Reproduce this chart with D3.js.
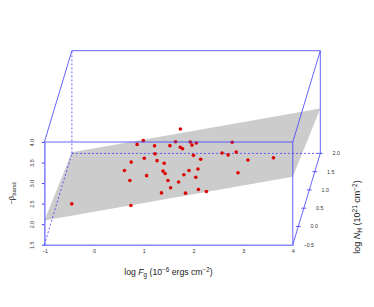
<!DOCTYPE html>
<html>
<head>
<meta charset="utf-8">
<script src="https://cdn.jsdelivr.net/npm/d3@7"></script>
<style>
  html, body { margin: 0; padding: 0; background: #fff; }
  text { font-family: "Liberation Sans", Arial, sans-serif; }
</style>
</head>
<body>
<svg class="plot" width="374" height="307"></svg>
<script>
// tick labels
var fluxTicks = [-1, 0, 1, 2, 3, 4],
    betaTicks = [1.5, 2.0, 2.5, 3.0, 3.5, 4.0],
    nhTicks = [-0.5, 0.0, 0.5, 1.0, 1.5, 2.0];

// points: log flux, log NH, -beta
var logFlux = [0.59, 0.88, 0.83, 1.25, 1.53, 1.35, 1.46, 1.67, 0.95, 0.90, 0.47, 0.88, 1.30, 0.50, 1.11, 1.32, 0.78, 0.61, 1.21, 1.59, 1.53, 1.80, 1.43, 1.08, 1.73, 1.66, 1.86, 1.67, 1.89, 1.87, 2.67, 2.30, 2.31, 2.75, 2.82, 3.50, 2.62, 1.98, 1.77, 1.99, 2.15, -0.56, 0.63];
var logNH = [0.75, 0, 1.25, 0.75, 0, 1.25, 0.75, 0, 0.75, 0, 0.75, 1.25, 0, 0, 0.75, 0, 0.75, 0, 0.75, 0, 0.75, 0, 0, 0.75, 0, 0.75, 0, 1.25, 0, 0.75, 0, 0.75, 1.25, 0, 0.75, 0, 0.75, 0, 0.75, 0, 0, 0, 0];
var beta = [2.83, 3.59, 2.35, 2.80, 3.56, 2.76, 2.76, 3.39, 2.60, 3.16, 2.40, 1.99, 3.04, 2.86, 2.18, 2.79, 2.07, 2.62, 1.95, 2.58, 2.09, 2.86, 2.44, 1.65, 2.31, 2.89, 3.48, 2.42, 3.23, 2.47, 3.55, 2.62, 2.13, 3.31, 2.45, 3.17, 2.14, 2.90, 2.03, 2.40, 2.35, 2.05, 2.01];

// regression plane at the four box corners
var planeFlux = [-1, 4, 4, -1],
    planeNH = [-0.5, -0.5, 2, 2],
    planeBeta = [2.09, 3.155, 2.59, 1.53];

var boxBlue = "#3c3cff";

var svg = d3.select(".plot");

// scatterplot3d style projection: depth shifts the front face up and to the right
var x = d3.scaleLinear().domain([-1, 4]).range([44.4, 292.8]),
    y = d3.scaleLinear().domain([1.5, 4]).range([244.7, 142]),
    depthX = d3.scaleLinear().domain([-0.5, 2]).range([0, 27.5]),
    depthY = d3.scaleLinear().domain([-0.5, 2]).range([0, -91.3]);

function px(f, n) { return x(f) + depthX(n); }
function py(f, n, b) { return y(b) + depthY(n); }

// box edge between two data corners
function edge(a, b, dashed) {
  svg.append("line")
      .attr("x1", px(a[0], a[1])).attr("y1", py(a[0], a[1], a[2]))
      .attr("x2", px(b[0], b[1])).attr("y2", py(b[0], b[1], b[2]))
      .attr("stroke", boxBlue)
      .attr("stroke-width", 0.8)
      .attr("stroke-dasharray", dashed ? "2,2" : null);
}

// plane first, box and points over it
svg.append("polygon")
    .attr("fill", "#cccccc")
    .attr("points", planeFlux.map(function(d, i) {
      return px(d, planeNH[i]) + "," + py(d, planeNH[i], planeBeta[i]);
    }).join(" "));

// hidden edges are dashed
edge([-1, 2, 1.5], [4, 2, 1.5], true);
edge([-1, 2, 1.5], [-1, 2, 4], true);
edge([-1, -0.5, 1.5], [-1, 2, 1.5], true);

svg.selectAll(".dots")
    .data(logFlux)
    .enter()
    .append("circle")
    .attr("class", "dots")
    .attr("cx", function(d, i) { return px(d, logNH[i]); })
    .attr("cy", function(d, i) { return py(d, logNH[i], beta[i]); })
    .attr("r", 1.8)
    .attr("fill", "#dd0000");

edge([-1, -0.5, 4], [4, -0.5, 4]);
edge([-1, 2, 4], [4, 2, 4]);
edge([-1, -0.5, 4], [-1, 2, 4]);
edge([4, -0.5, 1.5], [4, -0.5, 4]);
edge([4, 2, 1.5], [4, 2, 4]);
edge([4, -0.5, 4], [4, 2, 4]);
edge([4, -0.5, 1.5], [4, 2, 1.5]);

// bottom axis
var xAxis = svg.append("g")
    .attr("transform", "translate(0," + y(1.5) + ")")
    .call(d3.axisBottom(x).tickValues(fluxTicks).tickSize(1).tickSizeOuter(0).tickPadding(4)
      .tickFormat(function(d) { return d < 0 ? "\u2212" + (-d) : d; }));

// left axis, labels turned like base R
var yAxis = svg.append("g")
    .attr("transform", "translate(" + x(-1) + ",0)")
    .call(d3.axisLeft(y).tickValues(betaTicks).tickSize(2.5).tickSizeOuter(0).tickFormat(d3.format(".1f")));
yAxis.selectAll("text")
    .attr("transform", "translate(-10,0) rotate(-90)")
    .attr("x", 0).attr("y", 0).attr("dy", 0)
    .attr("text-anchor", "middle");

xAxis.selectAll(".domain, line").attr("stroke", "#8a8aff").attr("stroke-width", 1.6);
yAxis.selectAll(".domain, line").attr("stroke", boxBlue).attr("stroke-width", 1);
[xAxis, yAxis].forEach(function(a) {
  a.selectAll("text").attr("fill", "#333").style("font-size", "5.3px").style("font-family", "Liberation Sans");
});

// depth axis along the right floor edge
var nh = svg.append("g").selectAll("g").data(nhTicks).enter().append("g")
    .attr("transform", function(d) { return "translate(" + px(4, d) + "," + py(4, d, 1.5) + ")"; });
nh.filter(function(d) { return d > -0.5; }).append("line")
    .attr("x1", -2.5).attr("x2", 2.5)
    .attr("stroke", boxBlue).attr("stroke-width", 0.8);
nh.append("text")
    .attr("x", 16).attr("dy", "0.35em")
    .attr("text-anchor", "middle")
    .attr("fill", "#333")
    .style("font-size", "5.3px")
    .text(function(d) { return d < 0 ? "\u2212" + d3.format(".1f")(-d) : d3.format(".1f")(d); });

// axis titles
var xTitle = svg.append("text")
    .attr("x", 168.5).attr("y", 275)
    .attr("text-anchor", "middle")
    .attr("fill", "#222")
    .style("font-size", "8.7px");
xTitle.append("tspan").text("log ");
xTitle.append("tspan").attr("font-style", "italic").text("F");
xTitle.append("tspan").attr("dy", 1.5).style("font-size", "6.3px").text("g");
xTitle.append("tspan").attr("dy", -1.5).text(" (10");
xTitle.append("tspan").attr("dy", -3).style("font-size", "6.3px").text("\u22126");
xTitle.append("tspan").attr("dy", 3).text(" ergs cm");
xTitle.append("tspan").attr("dy", -3).style("font-size", "6.3px").text("\u22122");
xTitle.append("tspan").attr("dy", 3).text(")");

var yTitle = svg.append("text")
    .attr("transform", "translate(14,193.5) rotate(-90)")
    .attr("text-anchor", "middle")
    .attr("fill", "#222")
    .style("font-size", "7.5px");
yTitle.append("tspan").text("\u2212\u03b2");
yTitle.append("tspan").attr("dy", 1.5).style("font-size", "6px").text("band");

var nhTitle = svg.append("text")
    .attr("transform", "translate(360,217) rotate(-90)")
    .attr("text-anchor", "middle")
    .attr("fill", "#222")
    .style("font-size", "9px");
nhTitle.append("tspan").text("log ");
nhTitle.append("tspan").attr("font-style", "italic").text("N");
nhTitle.append("tspan").attr("dy", 1.5).style("font-size", "6.5px").text("H");
nhTitle.append("tspan").attr("dy", -1.5).text(" (10");
nhTitle.append("tspan").attr("dy", -3).style("font-size", "6.5px").text("21");
nhTitle.append("tspan").attr("dy", 3).text(" cm");
nhTitle.append("tspan").attr("dy", -3).style("font-size", "6.5px").text("\u22122");
nhTitle.append("tspan").attr("dy", 3).text(")");
</script>
</body>
</html>
